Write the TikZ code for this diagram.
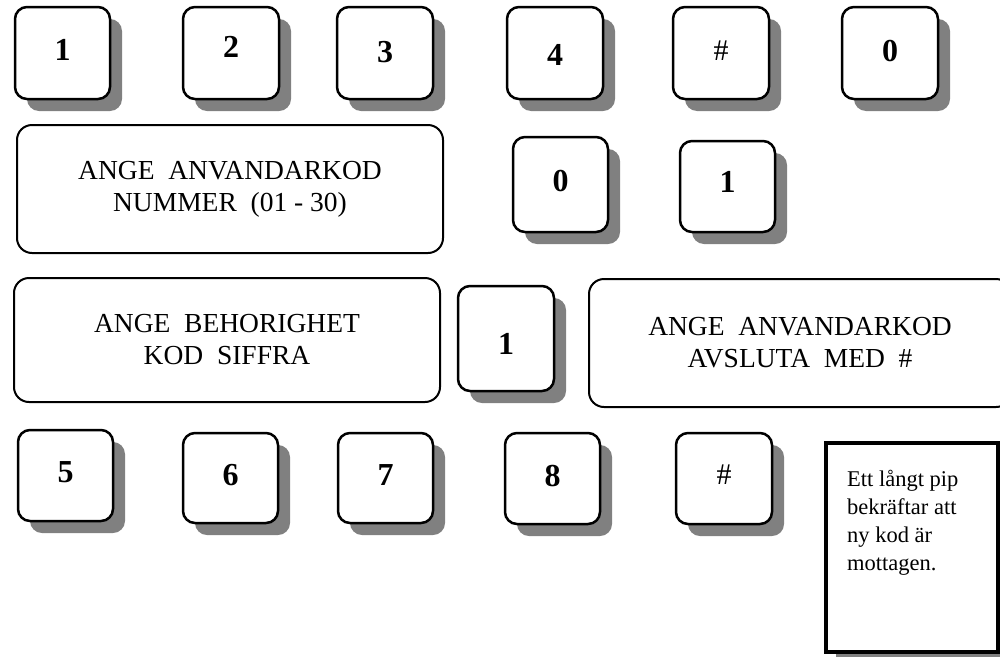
\documentclass[tikz,border=0pt]{standalone}
\usepackage{fontspec}
\setmainfont{Liberation Serif}
\usetikzlibrary{shadows}
\begin{document}
\begin{tikzpicture}[x=1pt,y=-1pt,
  keybox/.style={draw, line width=2.5pt, rounded corners=12pt, fill=white, inner sep=0pt,
    minimum width=95pt, minimum height=92pt, font=\fontsize{32}{32}\selectfont\bfseries,
    drop shadow={shadow xshift=12pt, shadow yshift=-12pt, fill=gray, opacity=1}},
  hashkey/.style={keybox, font=\fontsize{30}{30}\selectfont},
  lift/.style={text height=#1pt, text depth=0pt},
  textbox/.style={draw, line width=2pt, rounded corners=15pt, fill=white, align=center,
    inner sep=0pt, font=\fontsize{27.5}{32}\selectfont},
  notebox/.style={draw, line width=3.5pt, fill=white, inner sep=0pt,
    drop shadow={shadow xshift=10pt, shadow yshift=-5pt, fill=gray, opacity=1}},
  notetext/.style={align=left, inner sep=0pt, font=\fontsize{22.5}{28}\selectfont}
]
\useasboundingbox (0,0) rectangle (1000,659);
% row 1
\node[keybox, lift=15.6] (k1) at (62.5,53) {1};
\node[keybox, lift=9.6, minimum width=96pt] (k2) at (231,53) {2};
\node[keybox, lift=19.6, minimum width=96pt] (k3) at (385,53) {3};
\node[keybox, lift=25.6, minimum width=96pt] (k4) at (555,53) {4};
\node[hashkey, lift=14, minimum width=96pt] (kh1) at (721,53) {\#};
\node[keybox, lift=17.6, minimum width=96pt] (k0) at (890,53) {0};
% row 2
\node[textbox, minimum width=426pt, minimum height=128pt] (t1) at (230,189)
  {ANGE\ \ ANVANDARKOD\\NUMMER\ \ (01 - 30)};
\node[keybox, lift=14.6, minimum height=95pt] (k0b) at (560.5,184.5) {0};
\node[keybox, lift=12.6, minimum height=91pt] (k1b) at (727.5,186.5) {1};
% row 3
\node[textbox, minimum width=426pt, minimum height=124pt] (t2) at (227,340)
  {ANGE\ \ BEHORIGHET\\KOD\ \ SIFFRA};
\node[keybox, lift=32.6, minimum width=96pt, minimum height=105pt] (k1c) at (506,338.5) {1};
\node[textbox, minimum width=422pt, minimum height=128pt] (t3) at (800,343)
  {ANGE\ \ ANVANDARKOD\\AVSLUTA\ \ MED\ \ \#};
% row 4
\node[keybox, lift=14.6, minimum height=91pt] (k5) at (65.5,475.5) {5};
\node[keybox, lift=15.6, minimum height=90pt] (k6) at (230.5,478) {6};
\node[keybox, lift=15.6, minimum height=90pt] (k7) at (385.5,478) {7};
\node[keybox, lift=16.6, minimum height=91pt] (k8) at (552.5,478.5) {8};
\node[hashkey, lift=11, minimum width=96pt, minimum height=91pt] (kh2) at (724,478.5) {\#};
% note
\node[notebox, minimum width=172pt, minimum height=209pt] (note) at (912,547.5) {};
\node[notetext, anchor=north west] (notetxt) at (847,470)
  {Ett långt pip\\bekräftar att\\ny kod är\\mottagen.};
\end{tikzpicture}
\end{document}
